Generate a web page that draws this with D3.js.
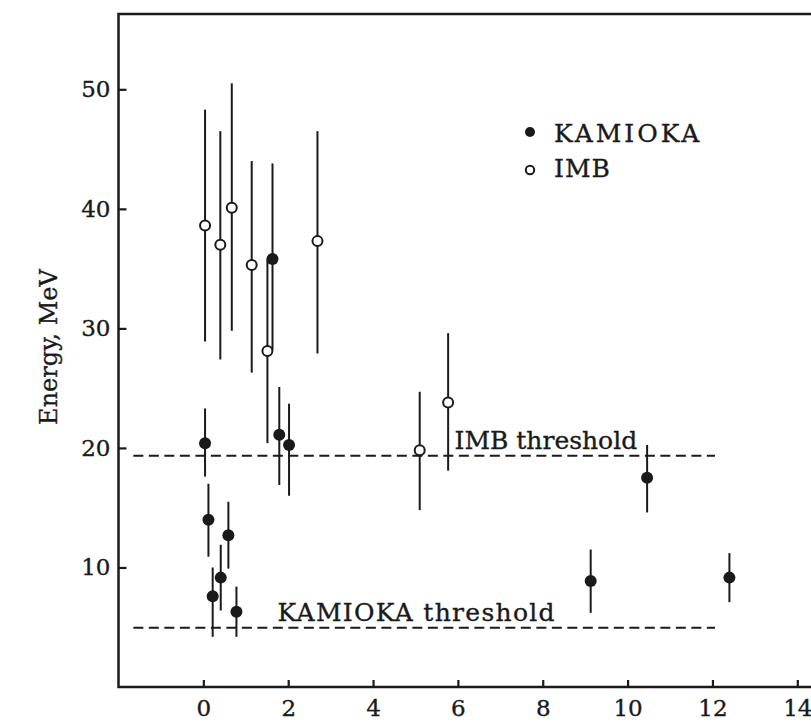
<!DOCTYPE html>
<html>
<head>
<meta charset="utf-8">
<script src="https://cdn.jsdelivr.net/npm/d3@7"></script>
<style>
  body { margin: 0; background: #fff; }
  text { font-family: "DejaVu Serif", serif; fill: #1a1a1a; stroke: #1a1a1a; stroke-width: 0.35px; }
</style>
</head>
<body>
<script>
// KAMIOKA events: time (s), energy (MeV), error bar low / high
var kamTime = [0.04, 0.12, 0.22, 0.41, 0.59, 0.78, 1.63, 1.79, 2.02, 9.13, 10.46, 12.4];
var kamEnergy = [20.4, 14.0, 7.6, 9.15, 12.7, 6.3, 35.8, 21.1, 20.25, 8.87, 17.5, 9.15];
var kamLow = [17.6, 10.9, 4.2, 6.4, 9.9, 4.2, 28.2, 16.9, 16.0, 6.2, 14.6, 7.1];
var kamHigh = [23.3, 17.0, 10.0, 11.9, 15.5, 8.4, 43.8, 25.1, 23.7, 11.5, 20.25, 11.2];

// IMB events
var imbTime = [0.04, 0.40, 0.67, 1.14, 1.51, 2.69, 5.10, 5.77];
var imbEnergy = [38.6, 37.0, 40.1, 35.3, 28.1, 37.3, 19.8, 23.8];
var imbLow = [28.9, 27.4, 29.8, 26.3, 20.4, 27.9, 14.8, 18.1];
var imbHigh = [48.3, 46.5, 50.5, 44.0, 35.8, 46.5, 24.7, 29.6];

// thresholds
var thresholdNames = ["IMB threshold", "KAMIOKA threshold"];
var thresholdValues = [19.35, 4.95];
var thresholdStart = -1.65, thresholdEnd = 12.06;

var xTicks = [0, 2, 4, 6, 8, 10, 12, 14];
var yTicks = [10, 20, 30, 40, 50];

var width = 811, height = 725;

var svg = d3.select("body").append("svg")
    .attr("width", width)
    .attr("height", height);

var x = d3.scaleLinear().domain([-2, 14.5]).range([118.5, 818.5]);
var y = d3.scaleLinear().domain([0, 56.3]).range([687, 14]);

var ink = "#1a1a1a";

// frame (right side falls outside the picture)
svg.append("rect")
    .attr("x", x(-2)).attr("y", y(56.3))
    .attr("width", x(14.5) - x(-2)).attr("height", y(0) - y(56.3))
    .attr("fill", "none").attr("stroke", ink).attr("stroke-width", 2.5);

// axes with inward ticks
var xAxis = svg.append("g")
    .attr("transform", "translate(0," + y(0) + ")")
    .call(d3.axisBottom(x).tickValues(xTicks).tickSize(-7).tickPadding(13).tickFormat(d3.format("d")));
var yAxis = svg.append("g")
    .attr("transform", "translate(" + x(-2) + ",0)")
    .call(d3.axisLeft(y).tickValues(yTicks).tickSize(-8).tickPadding(8).tickFormat(d3.format("d")));

[xAxis, yAxis].forEach(function (g) {
    g.select(".domain").remove();
    g.selectAll(".tick line").attr("stroke", ink).attr("stroke-width", 2.2);
    g.selectAll(".tick text")
        .style("font-family", "'DejaVu Serif', serif")
        .style("font-size", "23px")
        .attr("fill", ink);
});

// y label
svg.append("text")
    .attr("transform", "translate(57," + 347 + ") rotate(-90)")
    .attr("text-anchor", "middle")
    .style("font-size", "24px")
    .text("Energy, MeV");

// threshold lines
thresholdValues.forEach(function (v) {
    svg.append("line")
        .attr("x1", x(thresholdStart)).attr("x2", x(thresholdEnd))
        .attr("y1", y(v)).attr("y2", y(v))
        .attr("stroke", ink).attr("stroke-width", 2)
        .attr("stroke-dasharray", "10,5.5");
});
var thresholdLabelX = [5.92, 1.75];
var thresholdSpacing = [0, 1.3];
thresholdNames.forEach(function (name, i) {
    svg.append("text")
        .attr("x", x(thresholdLabelX[i]))
        .attr("y", y(thresholdValues[i]) - 7)
        .style("font-size", "25px")
        .style("letter-spacing", thresholdSpacing[i] + "px")
        .text(name);
});

// error bars
function bars(t, lo, hi) {
    svg.append("g").selectAll("line")
        .data(t)
        .join("line")
        .attr("x1", function (d) { return x(d); })
        .attr("x2", function (d) { return x(d); })
        .attr("y1", function (d, i) { return y(lo[i]); })
        .attr("y2", function (d, i) { return y(hi[i]); })
        .attr("stroke", ink).attr("stroke-width", 2);
}
bars(imbTime, imbLow, imbHigh);
bars(kamTime, kamLow, kamHigh);

// points
svg.append("g").selectAll("circle")
    .data(imbTime)
    .join("circle")
    .attr("cx", function (d) { return x(d); })
    .attr("cy", function (d, i) { return y(imbEnergy[i]); })
    .attr("r", 5)
    .attr("fill", "#fff").attr("stroke", ink).attr("stroke-width", 2);

svg.append("g").selectAll("circle")
    .data(kamTime)
    .join("circle")
    .attr("cx", function (d) { return x(d); })
    .attr("cy", function (d, i) { return y(kamEnergy[i]); })
    .attr("r", 6)
    .attr("fill", ink);

// legend
var legend = svg.append("g").attr("transform", "translate(530,132)");
legend.append("circle").attr("r", 5).attr("fill", ink);
legend.append("text").attr("x", 24).attr("y", 10).style("font-size", "25px")
    .style("letter-spacing", "3px").text("KAMIOKA");
legend.append("circle").attr("cy", 38).attr("r", 4.2)
    .attr("fill", "#fff").attr("stroke", ink).attr("stroke-width", 2);
legend.append("text").attr("x", 24).attr("y", 45).style("font-size", "25px")
    .style("letter-spacing", "1px").text("IMB");
</script>
</body>
</html>
